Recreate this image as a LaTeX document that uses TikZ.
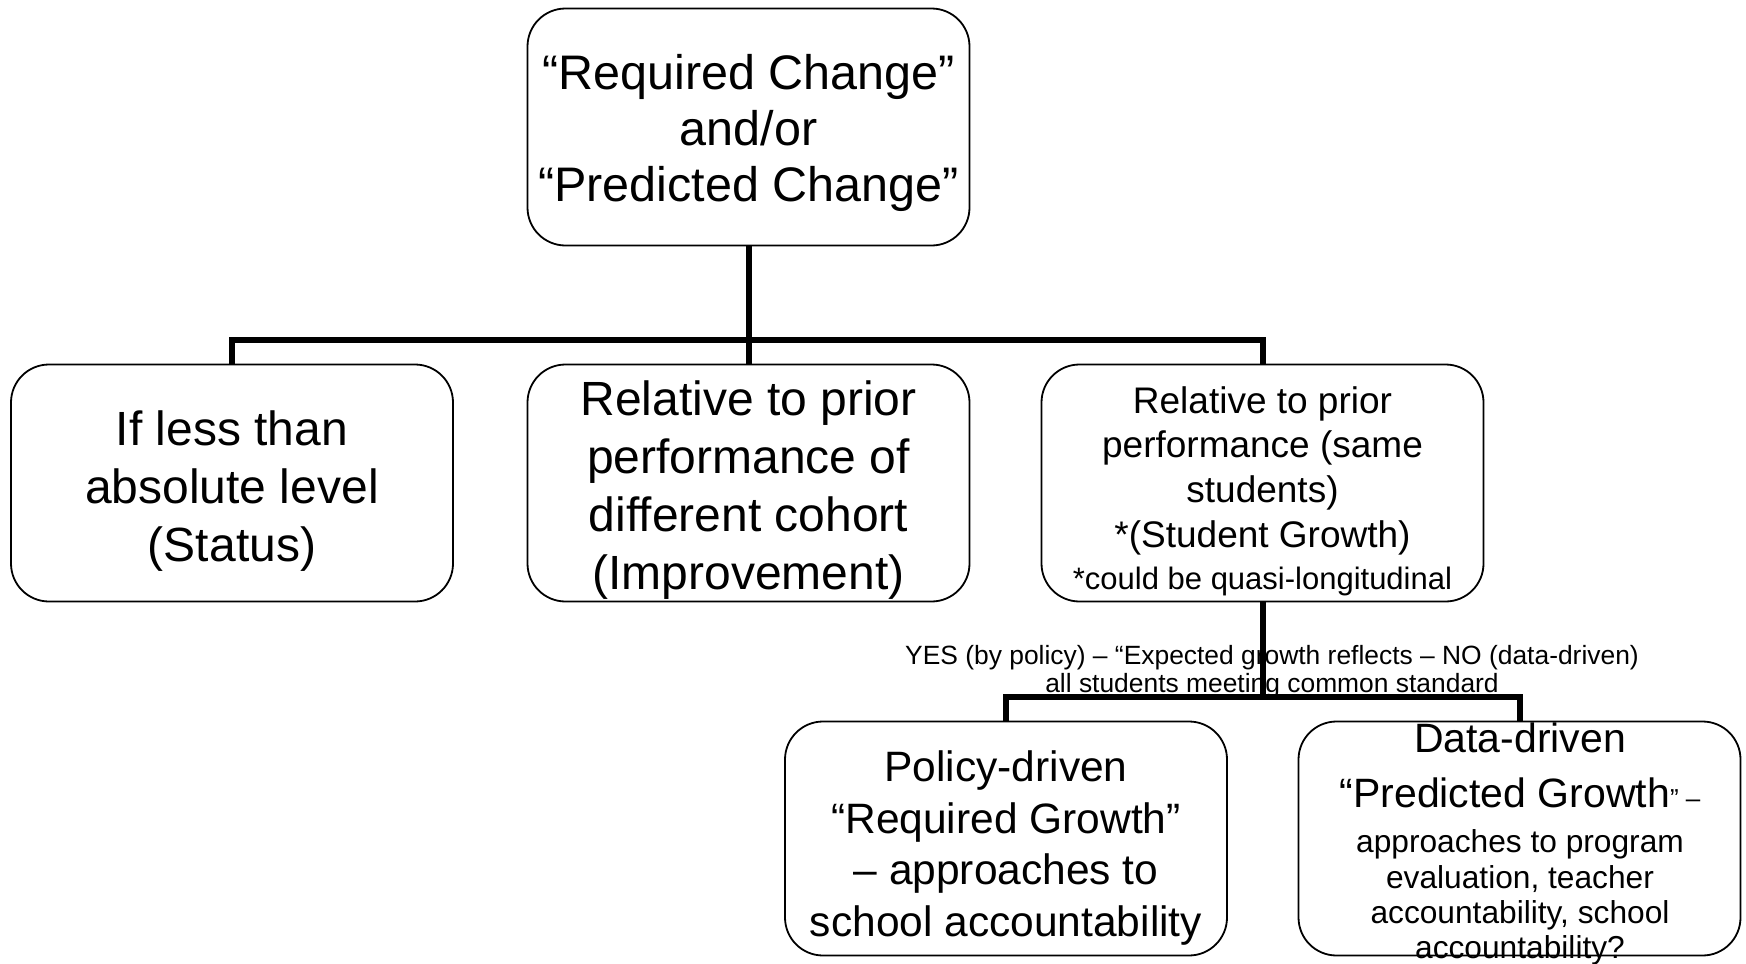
\documentclass[tikz,border=0pt]{standalone}
\usepackage{fontspec}
\setmainfont{Liberation Sans}
\newcommand\setfs[2]{\fontsize{#1}{#2}\selectfont}
\begin{document}
\begin{tikzpicture}[x=1pt,y=-1pt,
  box/.style={draw, line width=1.8pt, rounded corners=38pt, inner sep=0pt,
    minimum width=442pt, minimum height=237pt},
  txt/.style={inner sep=0pt, align=center},
  conn/.style={line width=6pt}]
\useasboundingbox (0,0) rectangle (1746,964);
% boxes
\node[box] (top) at (748.5,127) {};
\node[box] (b1) at (232,483) {};
\node[box] (b2) at (748.5,483) {};
\node[box] (b3) at (1262.5,483) {};
\node[box, minimum height=234pt] (b4) at (1006,838.5) {};
\node[box, minimum height=234pt] (b5) at (1519.5,838.5) {};
% texts
\node[txt, font=\setfs{48.5}{56}] (ttop) at ([yshift=-6pt]top.center)
  {“Required Change”\\and/or\\“Predicted Change”};
\node[txt, font=\setfs{48}{58}] (t1) at ([yshift=-8pt]b1.center)
  {If less than\\absolute level\\(Status)};
\node[txt, font=\setfs{48}{58}] (t2) at ([yshift=-7pt]b2.center)
  {Relative to prior\\performance of\\different cohort\\(Improvement)};
\node[txt, font=\setfs{37}{44.8}] (t3) at ([yshift=-8pt]b3.center)
  {Relative to prior\\performance (same\\students)\\*(Student Growth)\\[-3pt]{\setfs{31}{31}*could be quasi-longitudinal}};
\node[txt, font=\setfs{42.5}{51.6}] (t4) at ([yshift=-9.5pt]b4.center)
  {Policy-driven\\“Required Growth”\\– approaches to\\school accountability};
\node[txt, font=\setfs{31.7}{35.3}] (t5) at (1520,844.2)
  {{\setfs{41}{41}Data-driven}\\[19.2pt]{\setfs{41}{41}“Predicted Growth}{\setfs{26}{26}” –}\\[10.5pt]approaches to program\\evaluation, teacher\\accountability, school\\accountability?};
\node[txt, font=\setfs{26.4}{28}] (lab) at (1272,671.9)
  {YES (by policy) – “Expected growth reflects – NO (data-driven)\\all students meeting common standard};
% connectors
\coordinate (j1) at (748.5,340);
\coordinate (j2) at (1262.5,697);
\draw[conn] (top.south) -- (b2.north);
\draw[conn] (b1.north) |- (j1) -| (b3.north);
\draw[conn] (b3.south) -- (j2);
\draw[conn] (b4.north) |- (j2) -| (b5.north);
\end{tikzpicture}
\end{document}
